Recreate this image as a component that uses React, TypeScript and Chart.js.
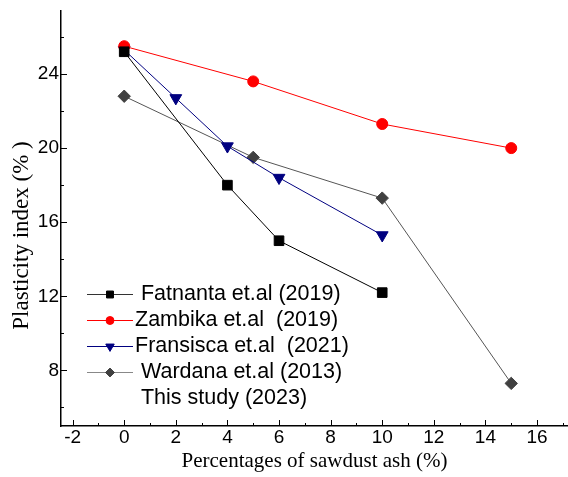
import React, { useEffect, useRef } from 'react';
import { Chart, registerables } from 'chart.js';
import { drawPoint } from 'chart.js/helpers';

Chart.register(...registerables);

// ---- data ----
const fatnantaX = [0, 4, 6, 10];
const fatnantaY = [25.2, 18, 15, 12.2];
const zambikaX = [0, 5, 10, 15];
const zambikaY = [25.5, 23.6, 21.3, 20];
const fransiscaX = [0, 2, 4, 6, 10];
const fransiscaY = [25.3, 22.7, 20.1, 18.4, 15.3];
const wardanaX = [0, 5, 10, 15];
const wardanaY = [22.8, 19.5, 17.3, 7.3];

const xTickValues = [-2, 0, 2, 4, 6, 8, 10, 12, 14, 16];
const yTickValues = [8, 12, 16, 20, 24];

const legendLabels = [
  ' Fatnanta et.al (2019)',
  'Zambika et.al  (2019)',
  'Fransisca et.al  (2021)',
  ' Wardana et.al (2013)',
  ' This study (2023)',
];

const xTitle = 'Percentages of sawdust ash (%)';
const yTitle = 'Plasticity index (% )';

const toPoints = (xs: number[], ys: number[]) => xs.map((x, i) => ({ x, y: ys[i] }));

const SANS = '"Liberation Sans", Arial, sans-serif';
const SERIF = '"Liberation Serif", "Times New Roman", serif';

const innerTicks = {
  id: 'innerTicks',
  afterDatasetsDraw(chart: any) {
    const { ctx, chartArea, scales } = chart;
    const xs = scales.x;
    const ys = scales.y;
    ctx.save();
    ctx.strokeStyle = '#000';
    ctx.lineWidth = 1;
    ctx.beginPath();
    for (let v = -2; v <= 17; v += 1) {
      const px = Math.round(xs.getPixelForValue(v)) + 0.5;
      const len = v % 2 === 0 ? 6 : 3;
      ctx.moveTo(px, chartArea.bottom);
      ctx.lineTo(px, chartArea.bottom - len);
    }
    for (let v = 6; v <= 26; v += 2) {
      const py = Math.round(ys.getPixelForValue(v)) + 0.5;
      const len = v % 4 === 0 ? 6 : 3;
      ctx.moveTo(chartArea.left, py);
      ctx.lineTo(chartArea.left + len, py);
    }
    ctx.stroke();
    ctx.restore();
  },
};

const yTitlePlugin = {
  id: 'yTitlePlugin',
  afterDraw(chart: any) {
    const { ctx, chartArea } = chart;
    ctx.save();
    ctx.translate(chartArea.left - 39.5, (chartArea.top + chartArea.bottom) / 2 + 17);
    ctx.rotate(-Math.PI / 2);
    ctx.fillStyle = '#000';
    ctx.font = `23px ${SERIF}`;
    ctx.textAlign = 'center';
    ctx.textBaseline = 'middle';
    ctx.fillText(yTitle, 0, 0);
    ctx.restore();
  },
};

const customLegend = {
  id: 'customLegend',
  afterDraw(chart: any) {
    const { ctx, chartArea } = chart;
    const x0 = chartArea.left + 26;
    const x1 = chartArea.left + 72;
    const xm = (x0 + x1) / 2;
    const textX = chartArea.left + 74;
    const firstY = chartArea.bottom - 132;
    const rowH = 26;
    ctx.save();
    legendLabels.forEach((label, i) => {
      const y = firstY + i * rowH;
      const ds = chart.data.datasets[i];
      if (ds) {
        ctx.strokeStyle = ds.legendLineColor || ds.borderColor;
        ctx.lineWidth = 1;
        ctx.beginPath();
        ctx.moveTo(x0, y + 0.5);
        ctx.lineTo(x1, y + 0.5);
        ctx.stroke();
        ctx.fillStyle = ds.pointBackgroundColor;
        ctx.strokeStyle = ds.pointBorderColor;
        ctx.lineWidth = 1;
        drawPoint(ctx, {
          pointStyle: ds.pointStyle,
          rotation: ds.pointRotation || 0,
          radius: ds.pointRadius * 0.72,
          borderWidth: 1,
        } as any, xm, y + 0.5);
      }
      ctx.fillStyle = '#000';
      ctx.font = `21.5px ${SANS}`;
      ctx.textBaseline = 'middle';
      ctx.textAlign = 'left';
      ctx.fillText(label, textX, y);
    });
    ctx.restore();
  },
};

export default function App() {
  const ref = useRef<HTMLCanvasElement>(null);

  useEffect(() => {
    document.body.style.margin = '0';
    const canvas = ref.current!;
    const chart = new Chart(canvas, {
      type: 'line',
      data: {
        datasets: [
          {
            label: legendLabels[0],
            data: toPoints(fatnantaX, fatnantaY),
            borderColor: '#000000',
            legendLineColor: '#333333',
            borderWidth: 1,
            pointStyle: 'rect',
            pointRadius: 6.8,
            pointHoverRadius: 6.8,
            pointBackgroundColor: '#000000',
            pointBorderColor: '#000000',
            showLine: true,
          } as any,
          {
            label: legendLabels[1],
            data: toPoints(zambikaX, zambikaY),
            borderColor: '#ff0000',
            borderWidth: 1,
            pointStyle: 'circle',
            pointRadius: 5.5,
            pointHoverRadius: 5.5,
            pointBackgroundColor: '#ff0000',
            pointBorderColor: '#ff0000',
            showLine: true,
          } as any,
          {
            label: legendLabels[2],
            data: toPoints(fransiscaX, fransiscaY),
            borderColor: '#000080',
            borderWidth: 1,
            pointStyle: 'triangle',
            pointRotation: 180,
            rotation: 180,
            pointRadius: 6.8,
            pointHoverRadius: 6.8,
            pointBackgroundColor: '#000080',
            pointBorderColor: '#000080',
            showLine: true,
          } as any,
          {
            label: legendLabels[3],
            data: toPoints(wardanaX, wardanaY),
            borderColor: '#555555',
            legendLineColor: '#888888',
            borderWidth: 1,
            pointStyle: 'rectRot',
            pointRadius: 6.2,
            pointHoverRadius: 6.2,
            pointBackgroundColor: '#404040',
            pointBorderColor: '#404040',
            showLine: true,
          } as any,
        ],
      },
      options: {
        animation: false,
        responsive: false,
        layout: { autoPadding: false, padding: { top: 11, right: 0, left: 0, bottom: 0 } },
        plugins: {
          legend: { display: false },
          tooltip: { enabled: false },
        },
        scales: {
          x: {
            type: 'linear',
            min: -2.45,
            max: 17.2,
            afterBuildTicks: (s: any) => {
              s.ticks = xTickValues.map((v) => ({ value: v }));
            },
            afterFit: (s: any) => {
              s.height = 51;
              s.paddingLeft = 0;
              s.paddingRight = 0;
            },
            grid: { display: false, drawTicks: false },
            border: { display: true, color: '#000', width: 1.5 },
            ticks: {
              color: '#000',
              font: { family: SANS, size: 19 },
              padding: 0,
              maxRotation: 0,
              autoSkip: false,
            },
            title: {
              display: true,
              text: xTitle,
              color: '#000',
              font: { family: SERIF, size: 21 },
              padding: { top: 0, bottom: 3 },
            },
          },
          y: {
            type: 'linear',
            min: 5,
            max: 27.4,
            afterBuildTicks: (s: any) => {
              s.ticks = yTickValues.map((v) => ({ value: v }));
            },
            afterFit: (s: any) => {
              s.width = 61;
              s.paddingTop = 0;
              s.paddingBottom = 0;
            },
            grid: { display: false, drawTicks: false },
            border: { display: true, color: '#000', width: 1.5 },
            ticks: {
              color: '#000',
              font: { family: SANS, size: 19 },
              padding: 2,
              autoSkip: false,
            },
            title: { display: false },
          },
        },
      } as any,
      plugins: [innerTicks, yTitlePlugin, customLegend],
    });
    return () => chart.destroy();
  }, []);

  return (
    <div style={{ width: 568, height: 477 }}>
      <canvas ref={ref} width={568} height={477} style={{ width: 568, height: 477, display: 'block' }} />
    </div>
  );
}
